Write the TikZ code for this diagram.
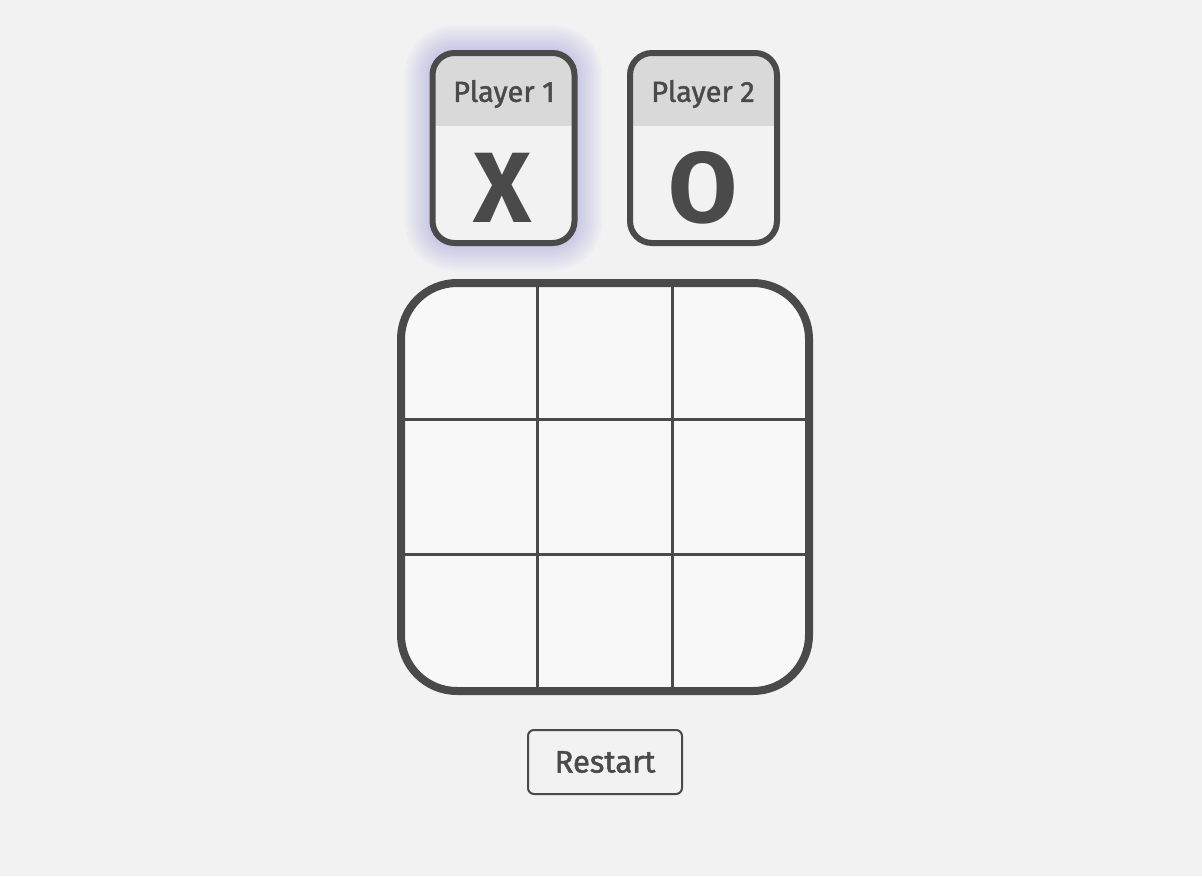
\documentclass[tikz,border=0pt]{standalone}
\usepackage{fontspec}
\setmainfont{Fira Sans}
\newfontfamily\medfont{Fira Sans}[FakeBold=1.6]
\usetikzlibrary{positioning}

\definecolor{ink}{HTML}{4A4A4A}
\definecolor{paper}{HTML}{F2F2F2}
\definecolor{head}{HTML}{D9D9D9}
\definecolor{cellbg}{HTML}{F8F8F8}
\definecolor{glow}{HTML}{8C8CDC}

\begin{document}
\begin{tikzpicture}[
    x=1pt, y=-1pt,
    card/.style={shape=rectangle, draw=ink, line width=6pt, rounded corners=22pt,
        minimum height=190pt, fill=paper, inner sep=0pt,
        path picture={\fill[head, sharp corners] (path picture bounding box.north west)
            rectangle ([yshift=-73pt]path picture bounding box.north east);}},
    cardname/.style={text=ink, font=\fontsize{29}{31}\medfont},
    cardmark/.style={text=ink, font=\fontsize{100}{100}\selectfont\bfseries},
    board/.style={shape=rectangle, draw=ink, line width=8pt, rounded corners=56pt,
        minimum width=408pt, minimum height=408pt, fill=cellbg},
    gridline/.style={draw=ink, line width=3pt},
    button/.style={shape=rectangle, draw=ink, line width=2pt, rounded corners=6pt,
        minimum width=154pt, minimum height=64pt, fill=paper,
        text=ink, font=\fontsize{31}{33}\medfont},
]

\useasboundingbox[fill=paper] (0,0) rectangle (1202,876);

% glow round the active player
\foreach \g in {2,4,...,28} {
    \pgfmathsetmacro\rr{22+\g}
    \fill[glow, opacity=0.032, rounded corners=\rr pt]
        (503.5-71-\g,148-95-\g) rectangle (503.5+71+\g,148+95+\g);
}

\node[card, minimum width=142pt] (p1) at (503.5, 148) {};
\node[card, minimum width=147pt] (p2) at (703.5, 148) {};
\node[cardname] (p1name) at (504, 94) {Player 1};
\node[cardname] (p2name) at (703, 94) {Player 2};
\node[cardmark] (p1mark) at (503, 188) {X};
\node[cardmark] (p2mark) at (703, 188) {O};

\node[board] (grid) at (605, 487) {};

\coordinate (v1t) at (537.5, 283);
\coordinate (v1b) at (537.5, 691);
\coordinate (v2t) at (672.5, 283);
\coordinate (v2b) at (672.5, 691);
\coordinate (h1l) at (401, 419.5);
\coordinate (h1r) at (809, 419.5);
\coordinate (h2l) at (401, 554.5);
\coordinate (h2r) at (809, 554.5);

\path[gridline]
    (v1t) edge (v1b)
    (v2t) edge (v2b)
    (h1l) edge (h1r)
    (h2l) edge (h2r)
;

\node[button] (restart) at (605, 762) {Restart};
\end{tikzpicture}
\end{document}
